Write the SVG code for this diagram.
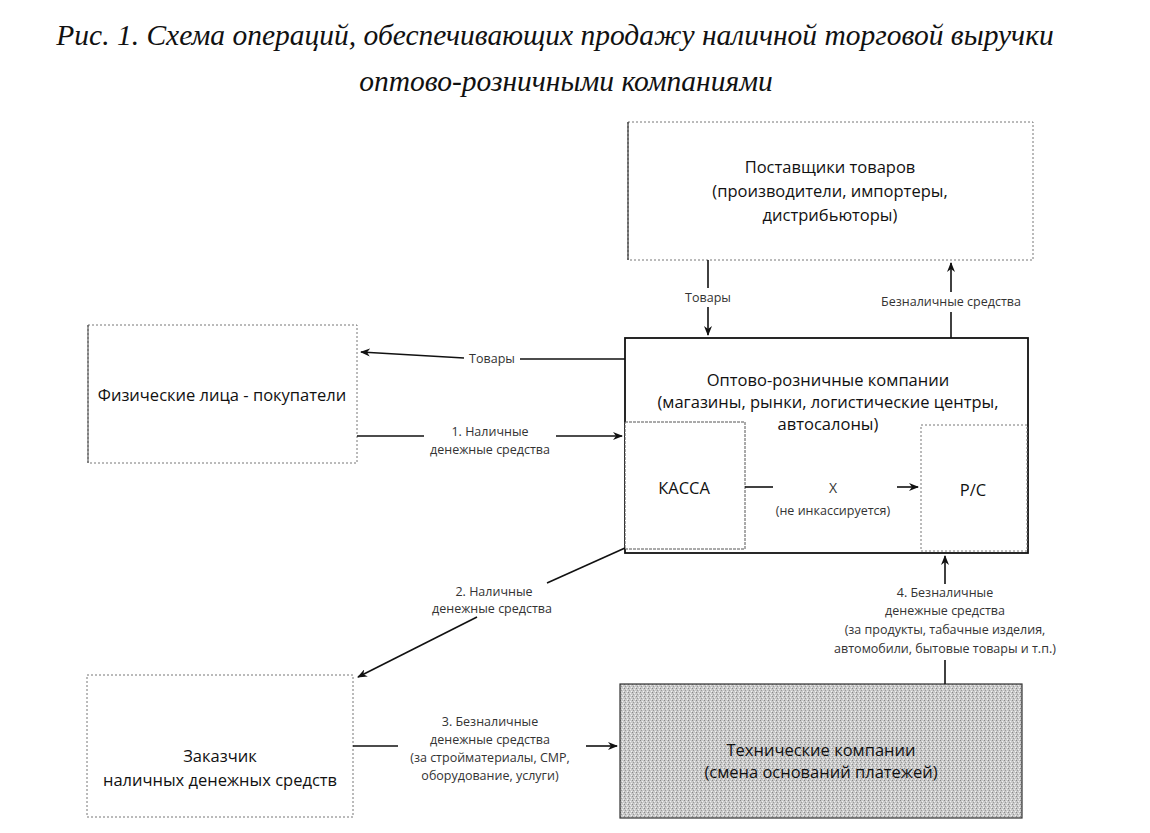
<svg xmlns="http://www.w3.org/2000/svg" width="1150" height="833" viewBox="0 0 1150 833">
<style>
.title{font-family:"Liberation Serif",serif;font-style:italic;font-size:29.5px;fill:#111;text-anchor:middle}
.t{font-family:"Open Sans","Liberation Sans",sans-serif;font-size:16.5px;fill:#111;text-anchor:middle}
.s{font-family:"Open Sans","Liberation Sans",sans-serif;font-size:12.5px;fill:#333;text-anchor:middle}
.dot{fill:#fff;stroke:#777;stroke-width:1;stroke-dasharray:2 2}
.solid{fill:#fff;stroke:#111;stroke-width:1.8}
.c{stroke:#111;stroke-width:1.6;fill:none}
</style>
<defs>
<marker id="ah" markerWidth="10" markerHeight="8" refX="9" refY="4" orient="auto" markerUnits="userSpaceOnUse">
<path d="M0,0 L10,4 L0,8 L3,4 Z" fill="#111"/>
</marker>
<pattern id="grain" width="4" height="4" patternUnits="userSpaceOnUse">
<rect width="4" height="4" fill="#c9c9c9"/>
<rect x="0" y="0" width="1" height="1" fill="#888"/>
<rect x="2" y="1" width="1" height="1" fill="#eee"/>
<rect x="1" y="2" width="1" height="1" fill="#999"/>
<rect x="3" y="3" width="1" height="1" fill="#f2f2f2"/>
</pattern>
</defs>
<rect width="1150" height="833" fill="#fff"/>
<text class="title" x="555" y="45">Рис. 1. Схема операций, обеспечивающих продажу наличной торговой выручки</text>
<text class="title" x="566" y="91">оптово-розничными компаниями</text>

<g id="suppliers">
<rect class="dot" x="628" y="122" width="405" height="138"/>
<line x1="628" y1="122" x2="628" y2="260" stroke="#333" stroke-width="1.2"/>
<text class="t" x="830" y="173">Поставщики товаров</text>
<text class="t" x="830" y="197">(производители, импортеры,</text>
<text class="t" x="830" y="221">дистрибьюторы)</text>
</g>

<g id="wholesale">
<rect class="solid" x="625" y="338" width="403" height="215"/>
<text class="t" x="828" y="386">Оптово-розничные компании</text>
<text class="t" x="828" y="408">(магазины, рынки, логистические центры,</text>
<text class="t" x="828" y="430">автосалоны)</text>
</g>

<g id="kassa">
<rect x="625" y="422" width="120" height="127" fill="#fff" stroke="#555" stroke-width="1" stroke-dasharray="3 1"/>
<text class="t" x="684" y="494">КАССА</text>
</g>

<g id="rs">
<rect x="921" y="425" width="106" height="126" fill="#fff" stroke="#777" stroke-width="1" stroke-dasharray="2 2"/>
<text class="t" x="973" y="496">Р/С</text>
</g>

<g id="persons">
<rect class="dot" x="88" y="325" width="269" height="138"/>
<line x1="88" y1="325" x2="88" y2="463" stroke="#444" stroke-width="1"/>
<text class="t" x="222" y="401">Физические лица - покупатели</text>
</g>

<g id="customer">
<rect class="dot" x="87" y="675" width="266" height="142"/>
<text class="t" x="220" y="762">Заказчик</text>
<text class="t" x="220" y="786">наличных денежных средств</text>
</g>

<g id="tech">
<rect x="620" y="684" width="402" height="134" fill="url(#grain)" stroke="#333" stroke-width="1.2"/>
<text class="t" x="821" y="756">Технические компании</text>
<text class="t" x="821" y="778">(смена оснований платежей)</text>
</g>

<g id="connectors">
<line class="c" x1="708" y1="260" x2="708" y2="288"/>
<line class="c" x1="708" y1="307" x2="708" y2="335" marker-end="url(#ah)"/>
<text class="s" x="708" y="302">Товары</text>

<line class="c" x1="951" y1="338" x2="951" y2="312"/>
<line class="c" x1="951" y1="292" x2="951" y2="263" marker-end="url(#ah)"/>
<text class="s" x="951" y="306">Безналичные средства</text>

<line class="c" x1="625" y1="359" x2="520" y2="359"/>
<line class="c" x1="464" y1="358" x2="361" y2="352" marker-end="url(#ah)"/>
<text class="s" x="492" y="363">Товары</text>

<line class="c" x1="357" y1="436" x2="424" y2="436" stroke-width="2"/>
<line class="c" x1="556" y1="436" x2="622" y2="436" marker-end="url(#ah)"/>
<text class="s" x="490" y="436">1. Наличные</text>
<text class="s" x="490" y="454">денежные средства</text>

<line class="c" x1="745" y1="487" x2="773" y2="487"/>
<text class="s" x="833" y="493" style="font-size:14px">Х</text>
<line class="c" x1="897" y1="487" x2="918" y2="487" marker-end="url(#ah)"/>
<text class="s" x="833" y="515">(не инкассируется)</text>

<line class="c" x1="625" y1="548" x2="547" y2="583"/>
<line class="c" x1="477" y1="617" x2="358" y2="677" marker-end="url(#ah)"/>
<text class="s" x="494" y="596">2. Наличные</text>
<text class="s" x="492" y="613">денежные средства</text>

<line class="c" x1="353" y1="746" x2="398" y2="746" stroke-width="2"/>
<line class="c" x1="586" y1="746" x2="617" y2="746" marker-end="url(#ah)"/>
<text class="s" x="490" y="726">3. Безналичные</text>
<text class="s" x="490" y="744">денежные средства</text>
<text class="s" x="490" y="762">(за стройматериалы, СМР,</text>
<text class="s" x="490" y="780">оборудование, услуги)</text>

<line class="c" x1="945" y1="684" x2="945" y2="660"/>
<line class="c" x1="945" y1="584" x2="945" y2="556" marker-end="url(#ah)"/>
<text class="s" x="945" y="597">4. Безналичные</text>
<text class="s" x="945" y="615">денежные средства</text>
<text class="s" x="945" y="634">(за продукты, табачные изделия,</text>
<text class="s" x="945" y="653">автомобили, бытовые товары и т.п.)</text>
</g>
</svg>
